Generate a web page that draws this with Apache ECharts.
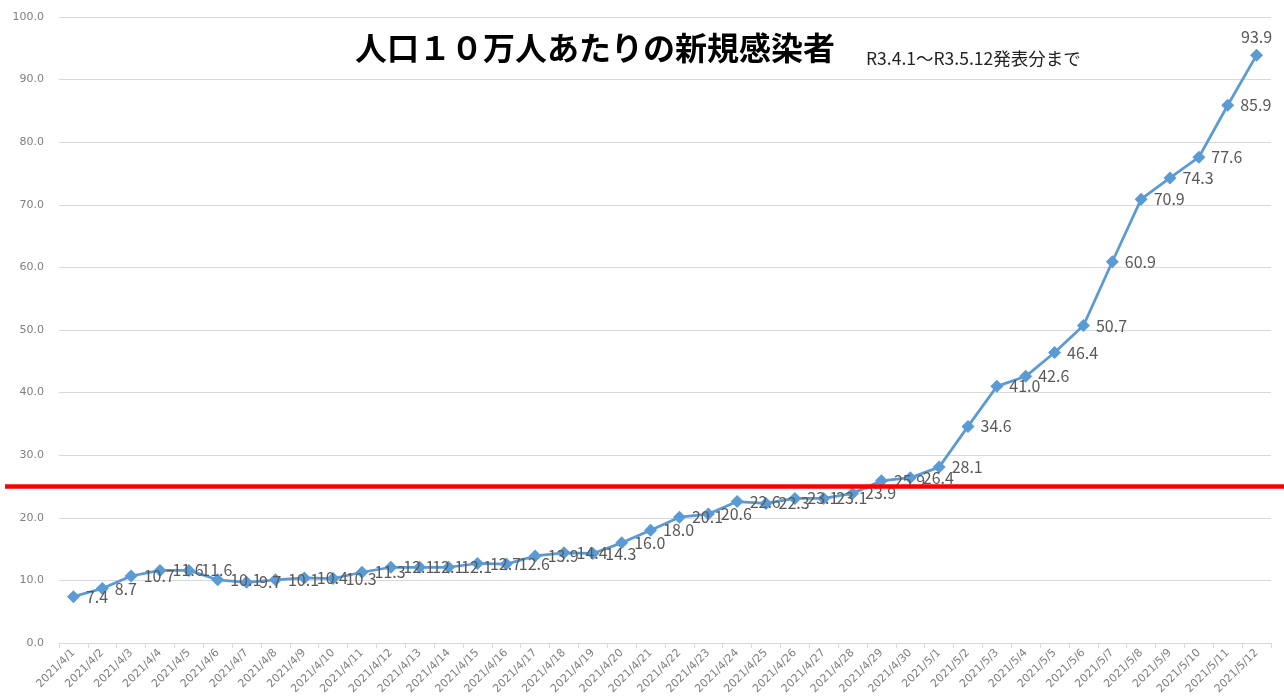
<!DOCTYPE html>
<html>
<head>
<meta charset="utf-8">
<script src="https://cdn.jsdelivr.net/npm/echarts@6/dist/echarts.min.js"></script>
<style>
  html, body { margin: 0; padding: 0; background: #fff; }
  #chart { width: 1284px; height: 700px; }
</style>
</head>
<body>
<div id="chart"></div>
<script>
// 日付
var dates = [
  '2021/4/1', '2021/4/2', '2021/4/3', '2021/4/4', '2021/4/5', '2021/4/6', '2021/4/7',
  '2021/4/8', '2021/4/9', '2021/4/10', '2021/4/11', '2021/4/12', '2021/4/13', '2021/4/14',
  '2021/4/15', '2021/4/16', '2021/4/17', '2021/4/18', '2021/4/19', '2021/4/20', '2021/4/21',
  '2021/4/22', '2021/4/23', '2021/4/24', '2021/4/25', '2021/4/26', '2021/4/27', '2021/4/28',
  '2021/4/29', '2021/4/30', '2021/5/1', '2021/5/2', '2021/5/3', '2021/5/4', '2021/5/5',
  '2021/5/6', '2021/5/7', '2021/5/8', '2021/5/9', '2021/5/10', '2021/5/11', '2021/5/12'
];
// 人口10万人あたり
var perCapita = [
  7.4, 8.7, 10.7, 11.6, 11.6, 10.1, 9.7,
  10.1, 10.4, 10.3, 11.3, 12.1, 12.1, 12.1,
  12.7, 12.6, 13.9, 14.4, 14.3, 16.0, 18.0,
  20.1, 20.6, 22.6, 22.3, 23.1, 23.1, 23.9,
  25.9, 26.4, 28.1, 34.6, 41.0, 42.6, 46.4,
  50.7, 60.9, 70.9, 74.3, 77.6, 85.9, 93.9
];
// 基準線
var threshold = 25;
var yMin = 0, yMax = 100, yStep = 10;

var chart = echarts.init(document.getElementById('chart'));

var points = perCapita.map(function (v, i) {
  // 最後の点だけラベルを上に
  if (i === perCapita.length - 1) {
    return { value: v, label: { position: 'top', distance: 4 } };
  }
  return v;
});

var option = {
  animation: false,
  textStyle: { fontFamily: '"Noto Sans CJK JP", "Noto Sans", sans-serif' },
  title: [
    {
      text: '人口１０万人あたりの新規感染者',
      left: 355,
      top: 32,
      padding: 0,
      textStyle: { fontSize: 32, fontWeight: 'bold', color: '#000' }
    },
    {
      text: 'R3.4.1～R3.5.12発表分まで',
      left: 866,
      top: 50,
      padding: 0,
      textStyle: { fontSize: 17.5, fontWeight: 'normal', color: '#222' }
    }
  ],
  grid: [
    { left: 59, right: 13, top: 17, bottom: 57 },
    // 赤線用（全幅）
    { left: 5, right: 0, top: 17, bottom: 57 }
  ],
  xAxis: [
    {
      type: 'category',
      data: dates,
      gridIndex: 0,
      boundaryGap: true,
      axisLine: { lineStyle: { color: '#d9d9d9' } },
      axisTick: { show: true, alignWithLabel: false, lineStyle: { color: '#d9d9d9' }, length: 5 },
      axisLabel: {
        interval: 0,
        rotate: 45,
        fontSize: 11,
        color: '#7f7f7f',
        margin: 8,
        fontFamily: '"DejaVu Sans", sans-serif'
      }
    },
    {
      type: 'value',
      gridIndex: 1,
      min: 0,
      max: 1,
      show: false
    }
  ],
  yAxis: [
    {
      type: 'value',
      gridIndex: 0,
      min: yMin,
      max: yMax,
      interval: yStep,
      axisLine: { show: false },
      axisTick: { show: false },
      splitLine: { lineStyle: { color: '#d9d9d9', width: 1 } },
      axisLabel: {
        fontSize: 11,
        color: '#7f7f7f',
        margin: 15,
        fontFamily: '"DejaVu Sans", sans-serif',
        formatter: function (v) { return v.toFixed(1); }
      }
    },
    {
      type: 'value',
      gridIndex: 1,
      min: yMin,
      max: yMax,
      show: false
    }
  ],
  series: [
    {
      type: 'line',
      xAxisIndex: 0,
      yAxisIndex: 0,
      data: points,
      symbol: 'diamond',
      symbolSize: 13,
      lineStyle: { color: '#5b9bd5', width: 2.75 },
      itemStyle: { color: '#5b9bd5' },
      label: {
        show: true,
        position: 'right',
        distance: 6,
        fontSize: 16,
        color: '#595959',
        fontFamily: '"Noto Sans CJK JP", sans-serif',
        formatter: function (p) { return Number(p.value).toFixed(1); }
      },
      z: 3
    },
    {
      type: 'line',
      xAxisIndex: 1,
      yAxisIndex: 1,
      data: [],
      markLine: {
        silent: true,
        symbol: 'none',
        label: { show: false },
        lineStyle: { color: '#ff0000', width: 4.5, type: 'solid' },
        data: [{ yAxis: threshold }]
      },
      z: 5
    }
  ]
};

chart.setOption(option);
</script>
</body>
</html>
